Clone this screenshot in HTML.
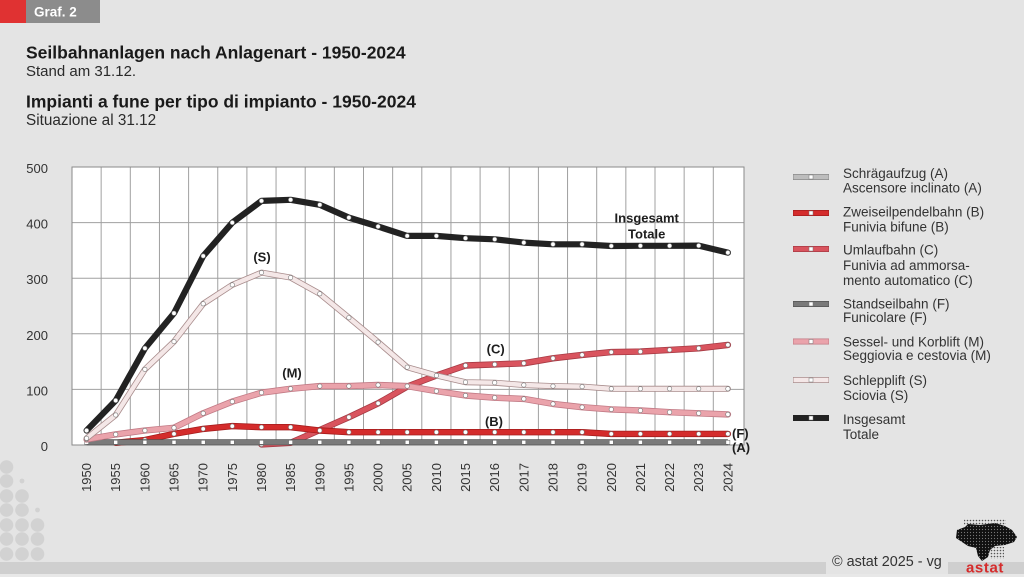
<!DOCTYPE html>
<html><head><meta charset="utf-8"><style>
html,body{margin:0;padding:0;background:#e4e4e4;}
svg{display:block;font-family:"Liberation Sans",Arial,sans-serif;}
</style></head><body>
<svg width="1024" height="577" viewBox="0 0 1024 577" xmlns="http://www.w3.org/2000/svg">
<defs>
<marker id="dot" viewBox="-3 -3 6 6" refX="0" refY="0" markerWidth="6" markerHeight="6" markerUnits="userSpaceOnUse"><circle r="2.2" fill="#fff" stroke="#777" stroke-width="0.6"/></marker>
<marker id="sq" viewBox="-3 -3 6 6" refX="0" refY="0" markerWidth="6" markerHeight="6" markerUnits="userSpaceOnUse"><rect x="-2" y="-2" width="4" height="4" fill="#fff" stroke="#666" stroke-width="0.5"/></marker>
<pattern id="dp" width="3" height="3" patternUnits="userSpaceOnUse"><rect width="3" height="3" fill="#111"/><circle cx="1.5" cy="1.5" r="0.6" fill="#777"/></pattern>
<pattern id="dg" width="3" height="3" patternUnits="userSpaceOnUse"><circle cx="1.5" cy="1.5" r="0.8" fill="#555"/></pattern>
</defs>
<rect width="1024" height="577" fill="#e4e4e4"/>
<!-- header tab -->
<rect x="0" y="0" width="26" height="23" fill="#e03232"/>
<rect x="26" y="0" width="74" height="23" fill="#8c8c8c"/>
<text x="34" y="16.7" font-size="13.5" font-weight="bold" fill="#fff">Graf. 2</text>
<!-- titles -->
<text x="26" y="58.5" font-size="17.5" font-weight="bold" fill="#1a1a1a">Seilbahnanlagen nach Anlagenart - 1950-2024</text>
<text x="26" y="76" font-size="15" fill="#2a2a2a">Stand am 31.12.</text>
<text x="26" y="107.7" font-size="17.5" font-weight="bold" fill="#1a1a1a">Impianti a fune per tipo di impianto - 1950-2024</text>
<text x="26" y="125" font-size="15.3" fill="#2a2a2a">Situazione al 31.12</text>

<!-- plot area -->
<rect x="72" y="167" width="672" height="278" fill="#fff"/>
<g stroke="#a0a0a0" stroke-width="1">
<line x1="72" y1="222.6" x2="744" y2="222.6"/>
<line x1="72" y1="278.2" x2="744" y2="278.2"/>
<line x1="72" y1="333.8" x2="744" y2="333.8"/>
<line x1="72" y1="389.4" x2="744" y2="389.4"/>
<line x1="101.15" y1="167" x2="101.15" y2="445"/>
<line x1="130.3" y1="167" x2="130.3" y2="445"/>
<line x1="159.45" y1="167" x2="159.45" y2="445"/>
<line x1="188.6" y1="167" x2="188.6" y2="445"/>
<line x1="217.75" y1="167" x2="217.75" y2="445"/>
<line x1="246.9" y1="167" x2="246.9" y2="445"/>
<line x1="276.05" y1="167" x2="276.05" y2="445"/>
<line x1="305.2" y1="167" x2="305.2" y2="445"/>
<line x1="334.35" y1="167" x2="334.35" y2="445"/>
<line x1="363.5" y1="167" x2="363.5" y2="445"/>
<line x1="392.65" y1="167" x2="392.65" y2="445"/>
<line x1="421.8" y1="167" x2="421.8" y2="445"/>
<line x1="450.95" y1="167" x2="450.95" y2="445"/>
<line x1="480.1" y1="167" x2="480.1" y2="445"/>
<line x1="509.25" y1="167" x2="509.25" y2="445"/>
<line x1="538.4" y1="167" x2="538.4" y2="445"/>
<line x1="567.55" y1="167" x2="567.55" y2="445"/>
<line x1="596.7" y1="167" x2="596.7" y2="445"/>
<line x1="625.85" y1="167" x2="625.85" y2="445"/>
<line x1="655" y1="167" x2="655" y2="445"/>
<line x1="684.15" y1="167" x2="684.15" y2="445"/>
<line x1="713.3" y1="167" x2="713.3" y2="445"/>
</g>
<rect x="72" y="167" width="672" height="278" fill="none" stroke="#8a8a8a" stroke-width="1"/>

<!-- y labels -->
<g font-size="13" fill="#333" text-anchor="end">
<text x="48" y="173">500</text>
<text x="48" y="228.6">400</text>
<text x="48" y="284.2">300</text>
<text x="48" y="339.8">200</text>
<text x="48" y="395.4">100</text>
<text x="48" y="451">0</text>
</g>

<!-- series -->
<g fill="none" stroke-linejoin="round" stroke-linecap="round">
<!-- C -->
<polyline stroke="#a83a44" stroke-width="6.4" points="261.5,444.4 290.6,442.8 319.8,430.0 348.9,417.2 378.1,403.3 407.2,386.6 436.4,375.5 465.5,365.5 494.7,364.4 523.8,363.3 553.0,358.3 582.1,354.9 611.3,352.1 640.4,351.6 669.6,349.9 698.7,348.3 727.9,344.9"/>
<polyline stroke="#d9545e" stroke-width="4.8" marker-start="url(#dot)" marker-mid="url(#dot)" marker-end="url(#dot)" points="261.5,444.4 290.6,442.8 319.8,430.0 348.9,417.2 378.1,403.3 407.2,386.6 436.4,375.5 465.5,365.5 494.7,364.4 523.8,363.3 553.0,358.3 582.1,354.9 611.3,352.1 640.4,351.6 669.6,349.9 698.7,348.3 727.9,344.9"/>
<!-- B -->
<polyline stroke="#a51c1c" stroke-width="6.4" points="115.7,442.8 144.9,440.0 174.0,433.9 203.2,428.9 232.3,426.1 261.5,427.2 290.6,427.2 319.8,430.5 348.9,432.2 378.1,432.2 407.2,432.2 436.4,432.2 465.5,432.2 494.7,432.2 523.8,432.2 553.0,432.2 582.1,432.2 611.3,433.9 640.4,433.9 669.6,433.9 698.7,433.9 727.9,433.9"/>
<polyline stroke="#d42c2c" stroke-width="4.8" marker-start="url(#dot)" marker-mid="url(#dot)" marker-end="url(#dot)" points="115.7,442.8 144.9,440.0 174.0,433.9 203.2,428.9 232.3,426.1 261.5,427.2 290.6,427.2 319.8,430.5 348.9,432.2 378.1,432.2 407.2,432.2 436.4,432.2 465.5,432.2 494.7,432.2 523.8,432.2 553.0,432.2 582.1,432.2 611.3,433.9 640.4,433.9 669.6,433.9 698.7,433.9 727.9,433.9"/>
<!-- F / A -->
<polyline stroke="#555" stroke-width="6" stroke-linecap="butt" points="86.6,442.3 727.9,442.3"/>
<polyline stroke="#7a7a7a" stroke-width="4.6" stroke-linecap="butt" marker-start="url(#sq)" marker-mid="url(#sq)" marker-end="url(#sq)" points="86.6,442.3 115.7,442.3 144.9,442.3 174.0,442.3 203.2,442.3 232.3,442.3 261.5,442.3 290.6,442.3 319.8,442.3 348.9,442.3 378.1,442.3 407.2,442.3 436.4,442.3 465.5,442.3 494.7,442.3 523.8,442.3 553.0,442.3 582.1,442.3 611.3,442.3 640.4,442.3 669.6,442.3 698.7,442.3 727.9,442.3"/>
<!-- M -->
<polyline stroke="#c27a85" stroke-width="6.4" points="86.6,439.4 115.7,434.4 144.9,430.5 174.0,427.8 203.2,413.3 232.3,401.6 261.5,392.7 290.6,388.8 319.8,386.1 348.9,386.1 378.1,385.0 407.2,386.1 436.4,391.1 465.5,395.5 494.7,397.7 523.8,398.9 553.0,403.9 582.1,407.2 611.3,409.4 640.4,410.5 669.6,412.2 698.7,413.3 727.9,414.4"/>
<polyline stroke="#eaa3ab" stroke-width="4.8" marker-start="url(#dot)" marker-mid="url(#dot)" marker-end="url(#dot)" points="86.6,439.4 115.7,434.4 144.9,430.5 174.0,427.8 203.2,413.3 232.3,401.6 261.5,392.7 290.6,388.8 319.8,386.1 348.9,386.1 378.1,385.0 407.2,386.1 436.4,391.1 465.5,395.5 494.7,397.7 523.8,398.9 553.0,403.9 582.1,407.2 611.3,409.4 640.4,410.5 669.6,412.2 698.7,413.3 727.9,414.4"/>
<!-- S -->
<polyline stroke="#a88c8c" stroke-width="6" points="86.6,438.3 115.7,415.0 144.9,369.4 174.0,341.6 203.2,303.8 232.3,284.9 261.5,272.6 290.6,277.6 319.8,293.8 348.9,317.7 378.1,342.1 407.2,367.2 436.4,375.5 465.5,382.2 494.7,382.7 523.8,385.0 553.0,386.1 582.1,386.6 611.3,388.8 640.4,388.8 669.6,388.8 698.7,388.8 727.9,388.8"/>
<polyline stroke="#f4e7e7" stroke-width="4.4" marker-start="url(#dot)" marker-mid="url(#dot)" marker-end="url(#dot)" points="86.6,438.3 115.7,415.0 144.9,369.4 174.0,341.6 203.2,303.8 232.3,284.9 261.5,272.6 290.6,277.6 319.8,293.8 348.9,317.7 378.1,342.1 407.2,367.2 436.4,375.5 465.5,382.2 494.7,382.7 523.8,385.0 553.0,386.1 582.1,386.6 611.3,388.8 640.4,388.8 669.6,388.8 698.7,388.8 727.9,388.8"/>
<!-- Total -->
<polyline stroke="#222" stroke-width="6.2" marker-start="url(#dot)" marker-mid="url(#dot)" marker-end="url(#dot)" points="86.6,430.5 115.7,400.5 144.9,348.3 174.0,313.2 203.2,256.0 232.3,222.6 261.5,200.9 290.6,199.8 319.8,204.8 348.9,217.6 378.1,226.5 407.2,235.9 436.4,235.9 465.5,238.2 494.7,239.3 523.8,242.6 553.0,244.3 582.1,244.3 611.3,246.0 640.4,245.8 669.6,245.8 698.7,245.6 727.9,252.6"/>
</g>

<!-- in-chart labels -->
<g font-size="13" font-weight="bold" fill="#1e1e1e" text-anchor="middle">
<text x="646.7" y="222.5">Insgesamt</text>
<text x="646.7" y="238.5">Totale</text>
<text x="262" y="261.5">(S)</text>
<text x="292" y="377.5">(M)</text>
<text x="495.7" y="353.5">(C)</text>
<text x="494" y="426">(B)</text>
</g>
<g font-size="13" font-weight="bold" fill="#1e1e1e">
<text x="732" y="437.8">(F)</text>
<text x="732" y="451.8">(A)</text>
</g>

<!-- x labels -->
<g font-size="13" fill="#333" text-anchor="end">
<text transform="translate(91.1,463) rotate(-90)">1950</text>
<text transform="translate(120.2,463) rotate(-90)">1955</text>
<text transform="translate(149.4,463) rotate(-90)">1960</text>
<text transform="translate(178.5,463) rotate(-90)">1965</text>
<text transform="translate(207.7,463) rotate(-90)">1970</text>
<text transform="translate(236.8,463) rotate(-90)">1975</text>
<text transform="translate(266.0,463) rotate(-90)">1980</text>
<text transform="translate(295.1,463) rotate(-90)">1985</text>
<text transform="translate(324.3,463) rotate(-90)">1990</text>
<text transform="translate(353.4,463) rotate(-90)">1995</text>
<text transform="translate(382.6,463) rotate(-90)">2000</text>
<text transform="translate(411.7,463) rotate(-90)">2005</text>
<text transform="translate(440.9,463) rotate(-90)">2010</text>
<text transform="translate(470.0,463) rotate(-90)">2015</text>
<text transform="translate(499.2,463) rotate(-90)">2016</text>
<text transform="translate(528.3,463) rotate(-90)">2017</text>
<text transform="translate(557.5,463) rotate(-90)">2018</text>
<text transform="translate(586.6,463) rotate(-90)">2019</text>
<text transform="translate(615.8,463) rotate(-90)">2020</text>
<text transform="translate(644.9,463) rotate(-90)">2021</text>
<text transform="translate(674.1,463) rotate(-90)">2022</text>
<text transform="translate(703.2,463) rotate(-90)">2023</text>
<text transform="translate(732.4,463) rotate(-90)">2024</text>
</g>

<!-- legend -->
<g stroke-linecap="butt">
<line x1="793" y1="177" x2="829" y2="177" stroke="#8a8a8a" stroke-width="6"/><line x1="793.5" y1="177" x2="828.5" y2="177" stroke="#bdbdbd" stroke-width="4.4"/>
<line x1="793" y1="213" x2="829" y2="213" stroke="#a51c1c" stroke-width="6"/><line x1="793.5" y1="213" x2="828.5" y2="213" stroke="#d42c2c" stroke-width="4.4"/>
<line x1="793" y1="249" x2="829" y2="249" stroke="#a83a44" stroke-width="6"/><line x1="793.5" y1="249" x2="828.5" y2="249" stroke="#d9545e" stroke-width="4.4"/>
<line x1="793" y1="304" x2="829" y2="304" stroke="#555" stroke-width="6"/><line x1="793.5" y1="304" x2="828.5" y2="304" stroke="#7a7a7a" stroke-width="4.4"/>
<line x1="793" y1="341.5" x2="829" y2="341.5" stroke="#c27a85" stroke-width="6"/><line x1="793.5" y1="341.5" x2="828.5" y2="341.5" stroke="#eaa3ab" stroke-width="4.4"/>
<line x1="793" y1="380" x2="829" y2="380" stroke="#a88c8c" stroke-width="6"/><line x1="793.5" y1="380" x2="828.5" y2="380" stroke="#f4e7e7" stroke-width="4.4"/>
<line x1="793" y1="418" x2="829" y2="418" stroke="#222" stroke-width="6"/>
</g>
<g fill="#fff" stroke="#777" stroke-width="0.5">
<rect x="809" y="175" width="4" height="4"/>
<rect x="809" y="211" width="4" height="4"/>
<rect x="809" y="247" width="4" height="4"/>
<rect x="809" y="302" width="4" height="4"/>
<rect x="809" y="339.5" width="4" height="4"/>
<rect x="809" y="378" width="4" height="4"/>
<rect x="809" y="416" width="4" height="4"/>
</g>
<g font-size="13.5" fill="#333">
<text x="843" y="178">Schrägaufzug (A)</text>
<text x="843" y="192.5">Ascensore inclinato (A)</text>
<text x="843" y="216.5">Zweiseilpendelbahn (B)</text>
<text x="843" y="231.5">Funivia bifune (B)</text>
<text x="843" y="254.5">Umlaufbahn (C)</text>
<text x="843" y="270">Funivia ad ammorsa-</text>
<text x="843" y="285">mento automatico (C)</text>
<text x="843" y="308.5">Standseilbahn (F)</text>
<text x="843" y="322">Funicolare (F)</text>
<text x="843" y="346.5">Sessel- und Korblift (M)</text>
<text x="843" y="360">Seggiovia e cestovia (M)</text>
<text x="843" y="385">Schlepplift (S)</text>
<text x="843" y="400">Sciovia (S)</text>
<text x="843" y="424">Insgesamt</text>
<text x="843" y="439">Totale</text>
</g>

<!-- bottom-left dots -->
<g fill="#d2d2d2">
<circle cx="6.5" cy="467" r="6.8"/><circle cx="6.5" cy="481" r="6.8"/><circle cx="6.5" cy="496" r="6.8"/><circle cx="6.5" cy="510" r="6.8"/><circle cx="6.5" cy="525" r="6.8"/><circle cx="6.5" cy="539" r="6.8"/><circle cx="6.5" cy="554" r="6.8"/>
<circle cx="22" cy="481" r="2.4"/><circle cx="22" cy="496" r="6.8"/><circle cx="22" cy="510" r="6.8"/><circle cx="22" cy="525" r="6.8"/><circle cx="22" cy="539" r="6.8"/><circle cx="22" cy="554" r="6.8"/>
<circle cx="37.5" cy="510" r="2.4"/><circle cx="37.5" cy="525" r="6.8"/><circle cx="37.5" cy="539" r="6.8"/><circle cx="37.5" cy="554" r="6.8"/>
</g>

<!-- bottom band -->
<rect x="0" y="562" width="826" height="12" fill="#cfcfcf"/>
<rect x="948" y="562" width="76" height="12" fill="#cfcfcf"/>
<rect x="0" y="574" width="1024" height="3" fill="#e8e8e8"/>
<text x="832" y="566" font-size="14.4" fill="#333">© astat 2025 - vg</text>

<!-- logo -->
<rect x="964" y="519" width="42" height="6" fill="url(#dg)"/>
<polygon fill="url(#dp)" points="957,530 965,527 968,524 980,525 995,523 1005,526 1012,530 1017,537 1014,542 1005,545 995,546 990,550 988,557 982,561 978,556 976,548 968,546 962,542 956,538"/>
<rect x="990" y="547" width="14" height="12" fill="url(#dg)"/>
<text x="985" y="572.5" font-size="15" font-weight="bold" fill="#d52b2b" text-anchor="middle" letter-spacing="0.6">astat</text>
</svg>
</body></html>
